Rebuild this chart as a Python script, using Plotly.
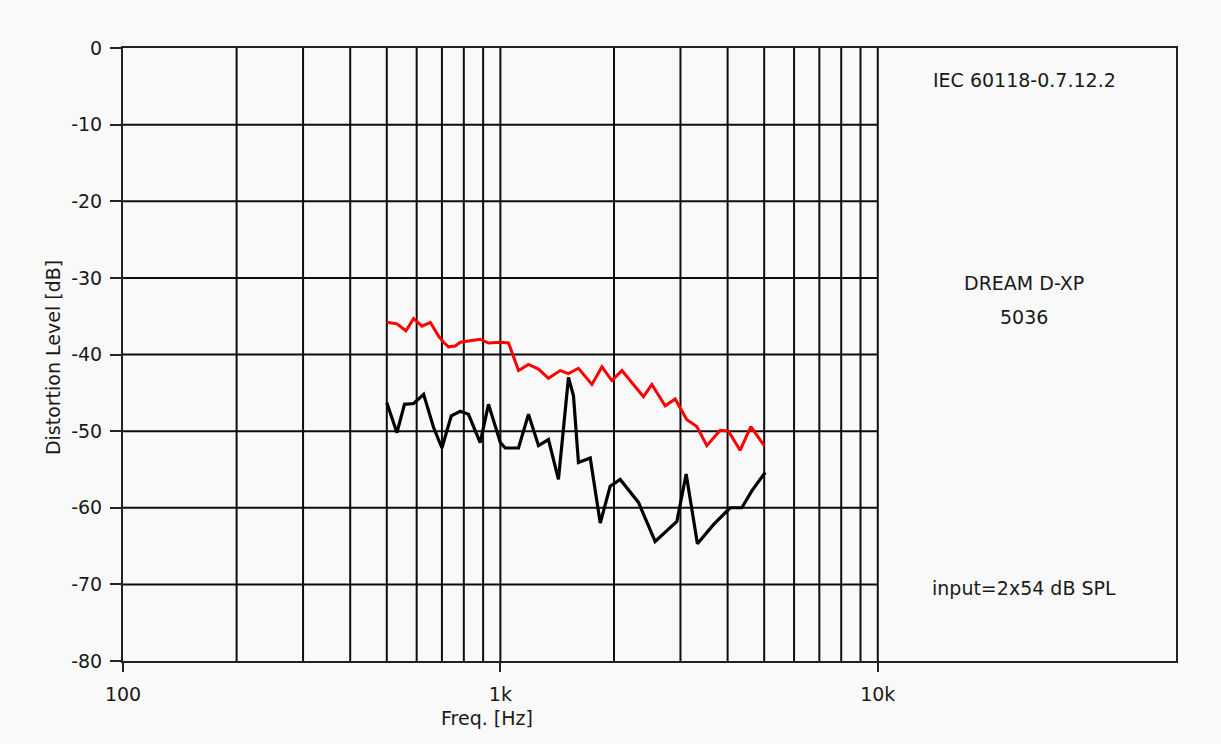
import plotly.graph_objects as go

# ---- data ----
red_freq = [500, 532, 562, 589, 620, 652, 686, 707, 729, 759, 783, 841, 884, 930,
            1000, 1051, 1117, 1187, 1262, 1341, 1440, 1515, 1610, 1748, 1858, 1974,
            2099, 2394, 2520, 2733, 2905, 3119, 3315, 3524, 3822, 4020, 4317, 4609, 5000]
red_db = [-35.8, -36.0, -36.9, -35.3, -36.3, -35.8, -37.6, -38.4, -39.0, -38.9, -38.4,
          -38.2, -38.0, -38.5, -38.4, -38.5, -42.1, -41.3, -41.9, -43.1, -42.1, -42.5,
          -41.8, -43.9, -41.6, -43.4, -42.1, -45.5, -43.9, -46.7, -45.8, -48.5, -49.4,
          -51.9, -49.9, -50.0, -52.5, -49.4, -51.9]

black_freq = [500, 532, 557, 589, 626, 665, 700, 741, 783, 823, 884, 930, 1000, 1030,
              1117, 1187, 1262, 1341, 1425, 1515, 1562, 1610, 1730, 1839, 1954, 2077,
              2322, 2571, 2935, 3106, 3327, 3669, 4063, 4363, 4637, 5030]
black_db = [-46.3, -50.2, -46.5, -46.4, -45.2, -49.5, -52.2, -48.0, -47.4, -47.8, -51.5,
            -46.5, -51.5, -52.2, -52.2, -47.8, -51.9, -51.1, -56.3, -43.0, -45.4, -54.1,
            -53.5, -62.0, -57.2, -56.3, -59.3, -64.4, -61.8, -55.6, -64.7, -62.2, -60.0,
            -60.0, -57.8, -55.4]

y_ticks = [0, -10, -20, -30, -40, -50, -60, -70, -80]
y_ticktext = ["0", "-10", "-20", "-30", "-40", "-50", "-60", "-70", "-80"]
x_ticks = [100, 1000, 10000]
x_ticktext = ["100", "1k", "10k"]
grid_freqs = [200, 300, 400, 500, 600, 700, 800, 900, 1000,
              2000, 3000, 4000, 5000, 6000, 7000, 8000, 9000, 10000]
grid_levels = [-10, -20, -30, -40, -50, -60, -70]

FONT = "DejaVu Sans"
FS = 19
TXT = "#1a1a1a"
BG = "#f9f9f9"

fig = go.Figure()
fig.add_trace(go.Scatter(x=red_freq, y=red_db, mode="lines",
                         line=dict(color="#ff0000", width=3), showlegend=False))
fig.add_trace(go.Scatter(x=black_freq, y=black_db, mode="lines",
                         line=dict(color="#000000", width=3.2), showlegend=False))

shapes = []
for f in grid_freqs:
    shapes.append(dict(type="line", xref="x", yref="y", x0=f, x1=f, y0=-80, y1=0,
                       line=dict(color="#0d0d0d", width=2), layer="below"))
for lv in grid_levels:
    shapes.append(dict(type="line", xref="x", yref="y", x0=100, x1=10000, y0=lv, y1=lv,
                       line=dict(color="#0d0d0d", width=2), layer="below"))

annots = [
    dict(text="IEC 60118-0.7.12.2", x=0.8557, y=0.9486),
    dict(text="DREAM D-XP", x=0.8557, y=0.6171),
    dict(text="5036", x=0.8557, y=0.5616),
    dict(text="input=2x54 dB SPL", x=0.8557, y=0.1192),
]
annotations = []
for a in annots:
    annotations.append(dict(text=a["text"], x=a["x"], y=a["y"], xref="paper", yref="paper",
                            showarrow=False, xanchor="center", yanchor="middle",
                            font=dict(family=FONT, size=FS, color=TXT)))
annotations.append(dict(text="Freq. [Hz]", x=0.3459, y=-0.093, xref="paper", yref="paper",
                        showarrow=False, xanchor="center", yanchor="middle",
                        font=dict(family=FONT, size=FS, color=TXT)))
annotations.append(dict(text="Distortion Level [dB]", x=-0.0671, y=0.4947, xref="paper",
                        yref="paper", showarrow=False, xanchor="center", yanchor="middle",
                        textangle=-90, font=dict(family=FONT, size=FS, color=TXT)))

fig.update_layout(
    width=1221, height=744,
    margin=dict(l=123, r=45, t=48, b=83),
    paper_bgcolor=BG, plot_bgcolor=BG,
    shapes=shapes, annotations=annotations,
    font=dict(family=FONT, size=FS, color=TXT),
    xaxis=dict(type="log", range=[2, 4.7902], tickvals=x_ticks, ticktext=x_ticktext,
               showgrid=False, zeroline=False, showline=True, mirror=True,
               linecolor="#222222", linewidth=2, ticks="outside", ticklen=9,
               tickcolor="#222222", tickwidth=1.5, ticklabelstandoff=6,
               tickfont=dict(family=FONT, size=FS, color=TXT)),
    yaxis=dict(range=[-80, 0], tickvals=y_ticks, ticktext=y_ticktext, showgrid=False,
               zeroline=False, showline=True, mirror=True, linecolor="#222222",
               linewidth=2, ticks="outside", ticklen=11, tickcolor="#222222",
               tickwidth=1.5, ticklabelstandoff=4,
               tickfont=dict(family=FONT, size=FS, color=TXT)),
)

fig.write_html("out.html")
